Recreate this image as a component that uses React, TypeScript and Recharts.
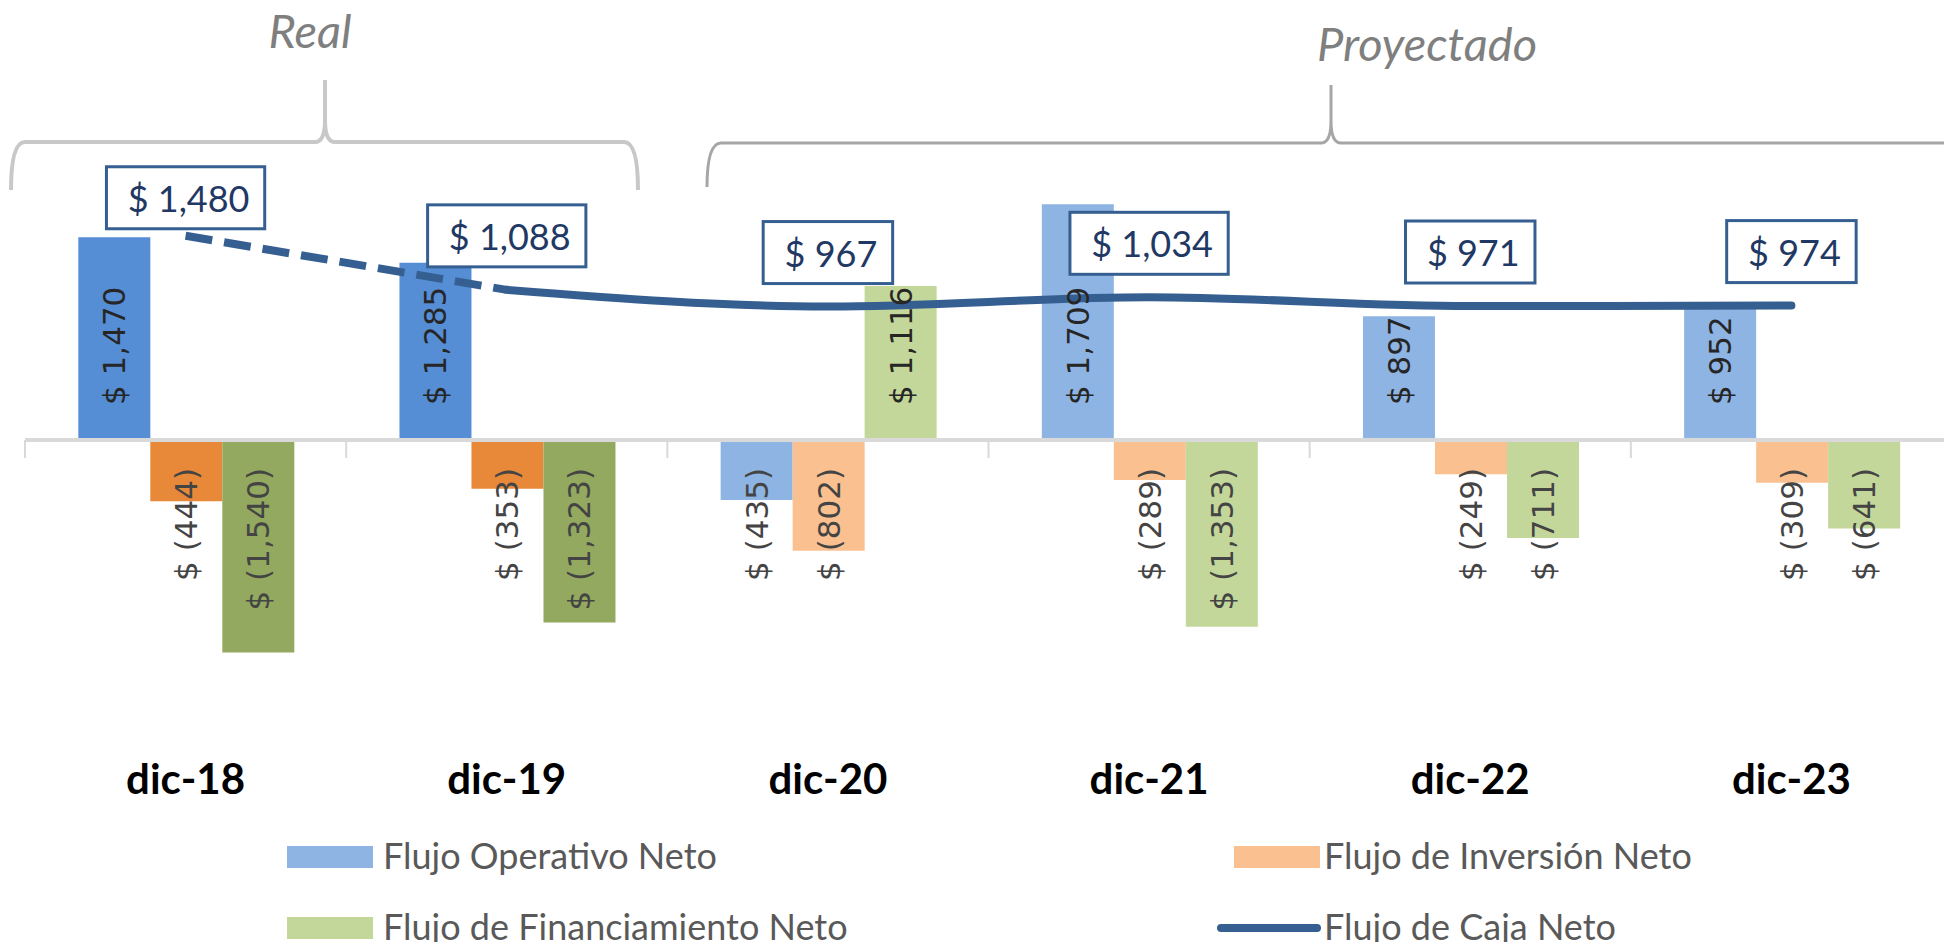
import React from 'react';
import { ComposedChart, Bar, Line, XAxis, YAxis, Cell, LabelList, ReferenceLine, Legend } from 'recharts';

// periodos y montos (millones)
const periodos = ['dic-18', 'dic-19', 'dic-20', 'dic-21', 'dic-22', 'dic-23'];
const tipoPeriodo = ['Real', 'Real', 'Proyectado', 'Proyectado', 'Proyectado', 'Proyectado'];
const flujoOperativo = [1470, 1285, -435, 1709, 897, 952];
const flujoInversion = [-444, -353, -802, -289, -249, -309];
const flujoFinanciamiento = [-1540, -1323, 1116, -1353, -711, -641];
const flujoCaja = [1480, 1088, 967, 1034, 971, 974];
const nombresSeries = ['Flujo Operativo Neto', 'Flujo de Inversión Neto', 'Flujo de Financiamiento Neto', 'Flujo de Caja Neto'];

const colores: Record<string, Record<string, string>> = {
  operativo: { Real: '#558ED5', Proyectado: '#8EB4E3' },
  inversion: { Real: '#E8893A', Proyectado: '#FAC090' },
  financiamiento: { Real: '#93A95F', Proyectado: '#C4D79B' },
};
const AZUL_LINEA = '#365F91';

const W = 1970;
const H = 942;

const data = periodos.map((p, i) => {
  const esReal = tipoPeriodo[i] === 'Real';
  const sigReal = tipoPeriodo[i + 1] === 'Real';
  return {
    periodo: p,
    operativo: flujoOperativo[i],
    inversion: flujoInversion[i],
    financiamiento: flujoFinanciamiento[i],
    cajaReal: esReal ? flujoCaja[i] : null,
    cajaProy: esReal && sigReal ? null : flujoCaja[i],
  };
});

const fmt = (v: number) =>
  v < 0 ? `$ (${Math.abs(v).toLocaleString('en-US')})` : `$ ${v.toLocaleString('en-US')}`;

// ancho aproximado del texto en Lato 36
const anchoTexto = (s: string) =>
  s.split('').reduce((acc, c) => acc + (c === ' ' ? 0.193 : c === ',' ? 0.22 : 0.58), 0) * 36;

const BarLabel = (props: any) => {
  const vb = props.viewBox || {};
  const x = props.x ?? vb.x;
  const y = props.y ?? vb.y;
  const width = props.width ?? vb.width;
  const height = props.height ?? vb.height;
  const value = props.value;
  if (value == null) return null;
  const cx = x + width / 2;
  const y0 = value >= 0 ? Math.max(y, y + height) : Math.min(y, y + height);
  const ty = value >= 0 ? y0 - 35 : y0 + 28;
  return (
    <text
      transform={`translate(${cx},${ty}) rotate(-90)`}
      textAnchor={value >= 0 ? 'start' : 'end'}
      dominantBaseline="central"
      fontFamily="DejaVu Sans"
      fontSize={31}
      fill={value >= 0 ? '#262626' : '#444444'}
    >
      {fmt(value)}
    </text>
  );
};

const makeCajaLabel = (soloSinProy: boolean) => (props: any) => {
  const { x, y, value, index } = props;
  if (value == null) return null;
  if (soloSinProy && data[index].cajaProy != null) return null;
  const s = fmt(value);
  const w = anchoTexto(s) + 39;
  const h = 62;
  const cy = y - (index === 0 ? 38 : 54);
  return (
    <g>
      <rect x={x - w / 2} y={cy - h / 2} width={w} height={h} fill="#fff" stroke={AZUL_LINEA} strokeWidth={3} />
      <text x={x + 3} y={cy} textAnchor="middle" dominantBaseline="central" fontFamily="Lato" fontSize={36} fill="#1F3864">
        {s}
      </text>
    </g>
  );
};

const CategoryTick = ({ x, y, payload }: any) => (
  <text x={x} y={y + 78} textAnchor="middle" fontFamily="Lato" fontWeight={700} fontSize={42} fill="#000">
    {payload.value}
  </text>
);

const ejeCero = (props: any) => {
  const { x1, y1, x2 } = props;
  const n = periodos.length;
  const paso = (x2 - x1) / n;
  return (
    <g>
      <line x1={x1} y1={y1} x2={x2} y2={y1} stroke="#D9D9D9" strokeWidth={4} />
      {Array.from({ length: n + 1 }, (_, i) => (
        <line key={i} x1={x1 + i * paso} y1={y1} x2={x1 + i * paso} y2={y1 + 18} stroke="#D9D9D9" strokeWidth={2} />
      ))}
    </g>
  );
};

const LegendContent = (props: any) => {
  const items = (props.payload || [])
    .filter((p: any) => p.type !== 'none' && nombresSeries.includes(p.value))
    .sort((a: any, b: any) => nombresSeries.indexOf(a.value) - nombresSeries.indexOf(b.value));
  return (
    <svg width={1944} height={112} style={{ display: 'block' }}>
      {items.map((it: any, i: number) => {
        const col = i % 2;
        const row = Math.floor(i / 2);
        const cy = row === 0 ? 27 : 98;
        const sx = col === 0 ? 287 : 1234;
        const tx = col === 0 ? 383 : 1324;
        return (
          <g key={it.value}>
            {it.type === 'line' ? (
              <line x1={sx - 13} x2={sx + 83} y1={cy} y2={cy} stroke={it.color} strokeWidth={8} strokeLinecap="round" />
            ) : (
              <rect x={sx} y={cy - 11} width={86} height={22} fill={it.color} />
            )}
            <text x={tx} y={cy + 12} fontFamily="Lato" fontSize={36} fill="#595959">
              {it.value}
            </text>
          </g>
        );
      })}
    </svg>
  );
};

const llave = (x0: number, x1: number, xc: number, yTop: number, yEnd: number, yPeak: number) =>
  `M ${x0} ${yEnd} Q ${x0} ${yTop} ${x0 + 14} ${yTop} L ${xc - 10} ${yTop} Q ${xc} ${yTop} ${xc} ${yTop - 22} L ${xc} ${yPeak} ` +
  `M ${xc} ${yTop - 22} Q ${xc} ${yTop} ${xc + 10} ${yTop} L ${x1 - 14} ${yTop} Q ${x1} ${yTop} ${x1} ${yEnd}`;

export default function App() {
  return (
    <div style={{ position: 'absolute', left: 0, top: 0, width: 1944, height: H, overflow: 'hidden', background: '#fff' }}>
      <svg width={1944} height={H} style={{ position: 'absolute', left: 0, top: 0 }}>
        <path d={llave(11, 638, 325, 142, 190, 80)} fill="none" stroke="#C8C8C8" strokeWidth={4} />
        <path d={llave(707, 2200, 1331, 143, 187, 85)} fill="none" stroke="#A6A6A6" strokeWidth={3} />
        <text x={310} y={48} textAnchor="middle" fontFamily="Lato" fontStyle="italic" fontSize={47} fill="#7F7F7F">
          Real
        </text>
        <text x={1427} y={61} textAnchor="middle" fontFamily="Lato" fontStyle="italic" fontSize={47} fill="#7F7F7F">
          Proyectado
        </text>
      </svg>
      <div style={{ position: 'absolute', left: 0, top: 0 }}>
        <ComposedChart
          width={W}
          height={H}
          data={data}
          margin={{ top: 164, right: 18, bottom: 0, left: 25 }}
          barCategoryGap="16.6%"
          barGap={0}
        >
          <XAxis dataKey="periodo" height={114} tickLine={false} axisLine={false} tickSize={0} tickMargin={0} tick={<CategoryTick />} interval={0} />
          <YAxis hide domain={[-2000, 2000]} />
          <ReferenceLine y={0} shape={ejeCero} ifOverflow="visible" />
          <Bar dataKey="operativo" name={nombresSeries[0]} fill={colores.operativo.Proyectado} isAnimationActive={false}>
            {data.map((_, i) => (
              <Cell key={i} fill={colores.operativo[tipoPeriodo[i]]} />
            ))}
            <LabelList dataKey="operativo" content={BarLabel} />
          </Bar>
          <Bar dataKey="inversion" name={nombresSeries[1]} fill={colores.inversion.Proyectado} isAnimationActive={false}>
            {data.map((_, i) => (
              <Cell key={i} fill={colores.inversion[tipoPeriodo[i]]} />
            ))}
            <LabelList dataKey="inversion" content={BarLabel} />
          </Bar>
          <Bar dataKey="financiamiento" name={nombresSeries[2]} fill={colores.financiamiento.Proyectado} isAnimationActive={false}>
            {data.map((_, i) => (
              <Cell key={i} fill={colores.financiamiento[tipoPeriodo[i]]} />
            ))}
            <LabelList dataKey="financiamiento" content={BarLabel} />
          </Bar>
          <Line
            dataKey="cajaReal"
            name="Flujo de Caja Neto (real)"
            type="monotone"
            stroke={AZUL_LINEA}
            strokeWidth={8}
            strokeDasharray="27 12"
            dot={false}
            activeDot={false}
            legendType="none"
            isAnimationActive={false}
          >
            <LabelList dataKey="cajaReal" content={makeCajaLabel(true)} />
          </Line>
          <Line
            dataKey="cajaProy"
            name={nombresSeries[3]}
            type="monotone"
            stroke={AZUL_LINEA}
            strokeWidth={8}
            strokeLinecap="round"
            dot={false}
            activeDot={false}
            legendType="line"
            isAnimationActive={false}
          >
            <LabelList dataKey="cajaProy" content={makeCajaLabel(false)} />
          </Line>
          <Legend
            verticalAlign="bottom"
            content={<LegendContent />}
            wrapperStyle={{ left: 0, top: 830, bottom: 'auto', width: 1944, height: 112 }}
          />
        </ComposedChart>
      </div>
    </div>
  );
}
